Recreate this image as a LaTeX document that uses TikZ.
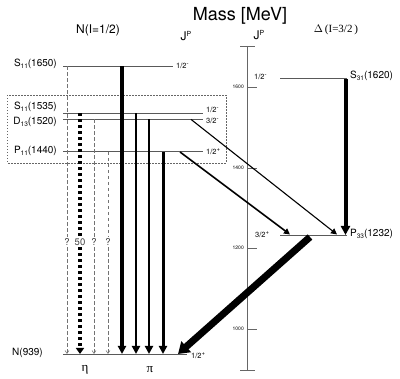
\documentclass[tikz,border=0pt]{standalone}
\usepackage{fontspec}
\setmainfont{TeX Gyre Heros}
\newfontfamily\serifgr{Liberation Serif}
\usetikzlibrary{arrows.meta}
\newcommand{\lsub}[1]{\raisebox{-2.2pt}{\fontsize{6.5}{6.5}\selectfont #1}}
\newcommand{\lsup}[1]{\raisebox{3.2pt}{\fontsize{6}{6}\selectfont #1}}
\begin{document}
\begin{tikzpicture}[x=1pt,y=-1pt,
  level/.style={draw=black!65, line width=0.8pt},
  lbl/.style={font=\fontsize{10}{12}\selectfont, inner sep=0pt},
  jplbl/.style={font=\fontsize{7.5}{9}\selectfont, inner sep=0pt, anchor=west},
  axisline/.style={draw=black!60, line width=0.8pt},
  ticklbl/.style={font=\fontsize{5}{6}\selectfont, inner sep=0pt, anchor=east},
  qlbl/.style={font=\fontsize{9.5}{11}\selectfont, text=black!75, inner sep=1.5pt},
  dashedarr/.style={draw=black!55, line width=0.6pt, dash pattern=on 3.5pt off 2.5pt},
  thinhead/.style={-{Straight Barb[length=3pt,width=4pt]}},
  dotarr/.style={line width=3.2pt, dash pattern=on 3pt off 3pt},
  piarr/.style={line width=#1, -{Triangle[length=8pt,width=8pt]}},
  diagarr/.style={line width=#1, -{Triangle[length=6pt,width=6pt]}},
  boxline/.style={draw=black!60, line width=0.6pt, dash pattern=on 1.5pt off 1.5pt}
]
\useasboundingbox (0,0) rectangle (400,379);

% headings
\node[font=\fontsize{18}{20}\selectfont] (title) at (240,16) {Mass [MeV]};
\node[font=\fontsize{12}{14}\selectfont] (nhead) at (98,30) {N(I=1/2)};
\node[font=\serifgr\fontsize{11}{13}\selectfont] (dhead) at (336,30) {$\Delta$\,(I=3/2\,)};
\node[font=\fontsize{12}{14}\selectfont] (jp1) at (186,36) {J\raisebox{4pt}{\fontsize{7}{7}\selectfont P}};
\node[font=\fontsize{12}{14}\selectfont] (jp2) at (259,35) {J\raisebox{4pt}{\fontsize{7}{7}\selectfont P}};

% box
\draw[boxline] (7,95) rectangle (226,163);

% mass axis
\coordinate (axtop) at (247.5,46);
\coordinate (axbot) at (247.5,370);
\draw[axisline] (axtop) -- (axbot);
\draw[axisline] (240,46) -- (255,46);
\draw[axisline] (240,370) -- (255,370);
\foreach \yy/\mm in {87/1600,168/1400,248/1200,329/1000}{
  \draw[axisline] (247.5,\yy) -- (257,\yy);
  \node[ticklbl] at (244,\yy) {\mm};
}

% N levels
\coordinate (n1650L) at (63,66.5);  \coordinate (n1650R) at (173,66.5);
\coordinate (n1535L) at (63,113.3); \coordinate (n1535R) at (203,113.3);
\coordinate (n1520L) at (63,119.4); \coordinate (n1520R) at (203,119.4);
\coordinate (n1440L) at (63,151.8); \coordinate (n1440R) at (203,151.8);
\coordinate (n939L) at (63,354);    \coordinate (n939R) at (187,354);
\draw[level] (n1650L) -- (n1650R);
\draw[level] (n1535L) -- (n1535R);
\draw[level] (n1520L) -- (n1520R);
\draw[level] (n1440L) -- (n1440R);
\draw[level] (n939L) -- (n939R);

\node[lbl, anchor=east] (lS1650) at (57,64) {S\lsub{11}(1650)};
\node[lbl, anchor=east] (lS1535) at (57,107) {S\lsub{11}(1535)};
\node[lbl, anchor=east] (lD1520) at (57,122) {D\lsub{13}(1520)};
\node[lbl, anchor=east] (lP1440) at (57,150.5) {P\lsub{11}(1440)};
\node[lbl, anchor=east] (lN939) at (43,353) {N(939)};

\node[jplbl] (j1650) at (176,66) {1/2\lsup{-}};
\node[jplbl] (j1535) at (206,110) {1/2\lsup{-}};
\node[jplbl] (j1520) at (206,121) {3/2\lsup{-}};
\node[jplbl] (j1440) at (206,152) {1/2\lsup{+}};
\node[jplbl] (j939) at (191,356) {1/2\lsup{+}};

% Delta levels
\coordinate (d1620L) at (280,78.8); \coordinate (d1620R) at (347,78.8);
\coordinate (d1232L) at (280,235);  \coordinate (d1232R) at (347,235);
\draw[level] (d1620L) -- (d1620R);
\draw[level] (d1232L) -- (d1232R);
\node[jplbl] (j1620) at (254,77) {1/2\lsup{-}};
\node[jplbl] (j1232) at (255,235) {3/2\lsup{+}};
\node[lbl, anchor=west] (lS1620) at (350,76) {S\lsub{31}(1620)};
\node[lbl, anchor=west] (lP1232) at (350,234) {P\lsub{33}(1232)};

% eta decays (dashed, with labels)
\coordinate (e1t) at (67,66.5);   \coordinate (e1b) at (67,354);
\coordinate (e2t) at (80,113.3);  \coordinate (e2b) at (80,354);
\coordinate (e3t) at (94,119.4);  \coordinate (e3b) at (94,354);
\coordinate (e4t) at (108,151.8); \coordinate (e4b) at (108,354);
\node[qlbl] (q1) at (67,242) {?};
\node[qlbl] (q2) at (80,242) {50};
\node[qlbl] (q3) at (94,242) {?};
\node[qlbl] (q4) at (108,242) {?};
\draw[dashedarr] (e1t) -- (q1.north);
\draw[dashedarr, thinhead] (q1.south) -- (e1b);
\draw[dashedarr] (e3t) -- (q3.north);
\draw[dashedarr, thinhead] (q3.south) -- (e3b);
\draw[dashedarr] (e4t) -- (q4.north);
\draw[dashedarr, thinhead] (q4.south) -- (e4b);
\draw[dotarr] (e2t) -- (q2.north);
\draw[dotarr, -{Triangle[length=6pt,width=8pt]}] (q2.south) -- (e2b);

% pi decays
\coordinate (p1t) at (122,66.5);  \coordinate (p1b) at (122,354);
\coordinate (p2t) at (136,113.3); \coordinate (p2b) at (136,354);
\coordinate (p3t) at (149,119.4); \coordinate (p3b) at (149,354);
\coordinate (p4t) at (163,151.8); \coordinate (p4b) at (163,354);
\draw[piarr=4pt] (p1t) -- (p1b);
\draw[piarr=2.6pt] (p2t) -- (p2b);
\draw[piarr=2.6pt] (p3t) -- (p3b);
\draw[piarr=3pt] (p4t) -- (p4b);

\node[font=\serifgr\fontsize{13}{15}\selectfont] (eta) at (85,370) {η};
\node[font=\serifgr\fontsize{13}{15}\selectfont] (pi) at (150,370) {π};

% decays to Delta
\coordinate (x1t) at (191,119.4); \coordinate (x1b) at (337,234.5);
\coordinate (x2t) at (180,152);   \coordinate (x2b) at (290,234.5);
\draw[diagarr=1.1pt] (x1t) -- (x1b);
\draw[diagarr=1.6pt] (x2t) -- (x2b);
\coordinate (s31t) at (345.5,78.8); \coordinate (s31b) at (345.5,235);
\draw[line width=4pt, -{Triangle[length=9pt,width=9pt]}] (s31t) -- (s31b);

% Delta to nucleon
\coordinate (dNt) at (310,237); \coordinate (dNb) at (178,354);
\draw[line width=7pt, -{Triangle[length=11pt,width=14pt]}] (dNt) -- (dNb);
\end{tikzpicture}
\end{document}
